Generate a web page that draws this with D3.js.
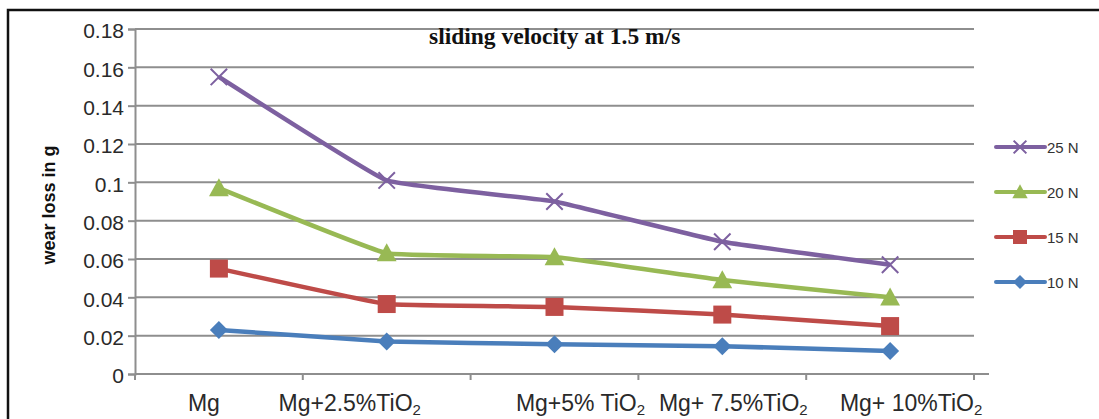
<!DOCTYPE html>
<html>
<head>
<meta charset="utf-8">
<script src="https://cdn.jsdelivr.net/npm/d3@7"></script>
<style>
  body { margin: 0; background: #fff; }
  svg { display: block; }
</style>
</head>
<body>
<div id="chart-area"></div>
<script>
// categories on the x axis (label text, subscript part kept apart)
let categories = ["Mg", "Mg+2.5%TiO2", "Mg+5% TiO2", "Mg+ 7.5%TiO2", "Mg+ 10%TiO2"];
let labelMain = ["Mg", "Mg+2.5%TiO", "Mg+5% TiO", "Mg+ 7.5%TiO", "Mg+ 10%TiO"];
let labelSub = ["", "2", "2", "2", "2"];

// wear loss (g) per load
let load10 = [0.023, 0.017, 0.0155, 0.0145, 0.012];
let load15 = [0.055, 0.0365, 0.035, 0.031, 0.025];
let load20 = [0.097, 0.063, 0.061, 0.049, 0.040];
let load25 = [0.155, 0.101, 0.090, 0.069, 0.057];

let seriesNames = ["10 N", "15 N", "20 N", "25 N"];
let yTicks = [0, 0.02, 0.04, 0.06, 0.08, 0.1, 0.12, 0.14, 0.16, 0.18];

// layout
let width = 1099, height = 419;
let plot = {left: 135, right: 974, top: 29, bottom: 374};
// the x labels in the picture are not centred on their category
let labelShift = [-15, -37, 26, 11, 21];

let colors = {"10 N": "#4a7ebb", "15 N": "#be4b48", "20 N": "#98b954", "25 N": "#7d60a0"};
let symbols = {"10 N": "diamond", "15 N": "square", "20 N": "triangle", "25 N": "cross"};

let svg = d3.select("#chart-area").append("svg")
    .attr("width", width)
    .attr("height", height);

svg.append("rect").attr("width", width).attr("height", height).attr("fill", "#fff");

// outer frame (runs past the right and bottom edges)
svg.append("rect")
    .attr("x", 8).attr("y", 10)
    .attr("width", 1100).attr("height", 420)
    .attr("fill", "none")
    .attr("stroke", "#111")
    .attr("stroke-width", 2.5);

let x = d3.scaleBand()
    .domain(categories)
    .range([plot.left, plot.right]);

let y = d3.scaleLinear()
    .domain([0, 0.18])
    .range([plot.bottom, plot.top]);

// gridlines
svg.append("g")
    .selectAll("line")
    .data(yTicks.slice(1))
    .enter().append("line")
    .attr("x1", plot.left).attr("x2", plot.right)
    .attr("y1", d => y(d)).attr("y2", d => y(d))
    .attr("stroke", "#8e8e8e")
    .attr("stroke-width", 2);

// y axis
let yAxis = svg.append("g")
    .attr("transform", "translate(" + plot.left + ",0)")
    .call(d3.axisLeft(y).tickValues(yTicks).tickSize(7).tickPadding(4)
        .tickFormat(d => d === 0 ? "0" : d3.format("")(+d.toFixed(2))));
yAxis.select(".domain").attr("stroke", "#8e8e8e").attr("stroke-width", 2);
yAxis.selectAll(".tick line").attr("stroke", "#8e8e8e").attr("stroke-width", 2);
yAxis.selectAll(".tick text")
    .attr("fill", "#2a2a2a")
    .style("font-family", "'Liberation Sans', Arial, sans-serif")
    .style("font-size", "21px")
    .attr("dy", "0.42em");

// x axis
svg.append("line")
    .attr("x1", plot.left).attr("x2", plot.right + 15)
    .attr("y1", plot.bottom).attr("y2", plot.bottom)
    .attr("stroke", "#8e8e8e").attr("stroke-width", 2);

let xEdges = categories.map(c => x(c)).concat([x(categories[categories.length - 1]) + x.bandwidth()]);
svg.append("g")
    .selectAll("line")
    .data(xEdges)
    .enter().append("line")
    .attr("x1", d => d).attr("x2", d => d)
    .attr("y1", plot.bottom).attr("y2", plot.bottom + 6)
    .attr("stroke", "#8e8e8e").attr("stroke-width", 2);

let xLabels = svg.append("g")
    .selectAll("text")
    .data(categories)
    .enter().append("text")
    .attr("x", (d, i) => x(d) + x.bandwidth() / 2 + labelShift[i])
    .attr("y", 411)
    .attr("text-anchor", "middle")
    .attr("fill", "#2a2a2a")
    .style("font-family", "'Liberation Sans', Arial, sans-serif")
    .style("font-size", "23px");
xLabels.append("tspan").text((d, i) => labelMain[i]);
xLabels.append("tspan")
    .attr("dy", 4)
    .style("font-size", "15px")
    .text((d, i) => labelSub[i]);

// title
svg.append("text")
    .attr("x", 429).attr("y", 44)
    .attr("fill", "#111")
    .style("font-family", "'Liberation Serif', 'Times New Roman', serif")
    .style("font-weight", "bold")
    .style("font-size", "23.5px")
    .text("sliding velocity at 1.5 m/s");

// y axis title
svg.append("text")
    .attr("transform", "translate(55,205) rotate(-90)")
    .attr("text-anchor", "middle")
    .attr("fill", "#111")
    .style("font-family", "'Liberation Sans', Arial, sans-serif")
    .style("font-weight", "bold")
    .style("font-size", "18px")
    .text("wear loss in g");

// series
let seriesData = [load10, load15, load20, load25].map((vals, i) => ({
    name: seriesNames[i],
    values: vals.map((v, j) => ({cat: categories[j], value: v}))
}));

let line = d3.line()
    .x(d => x(d.cat) + x.bandwidth() / 2)
    .y(d => y(d.value))
    .curve(d3.curveCardinal.tension(0.75));

function drawMarker(g, name, size) {
    let c = colors[name];
    let s = symbols[name];
    if (s === "cross") {
        g.append("path")
            .attr("d", d3.symbol().type(d3.symbolX).size(size * size * 0.55)())
            .attr("fill", "none").attr("stroke", c).attr("stroke-width", 2);
    } else if (s === "square") {
        g.append("rect")
            .attr("x", -size / 2).attr("y", -size / 2)
            .attr("width", size).attr("height", size)
            .attr("fill", c);
    } else if (s === "triangle") {
        g.append("path")
            .attr("d", "M0," + (-size * 0.55) + "L" + (size * 0.55) + "," + (size * 0.45) + "L" + (-size * 0.55) + "," + (size * 0.45) + "Z")
            .attr("fill", c);
    } else {
        g.append("path")
            .attr("d", "M0," + (-size * 0.5) + "L" + (size * 0.5) + ",0L0," + (size * 0.5) + "L" + (-size * 0.5) + ",0Z")
            .attr("fill", c);
    }
}

let seriesG = svg.selectAll(".series")
    .data(seriesData)
    .enter().append("g")
    .attr("class", "series");

seriesG.append("path")
    .attr("d", d => line(d.values))
    .attr("fill", "none")
    .attr("stroke", d => colors[d.name])
    .attr("stroke-width", 4.5)
    .attr("stroke-linejoin", "round");

seriesG.each(function (d) {
    let g = d3.select(this);
    d.values.forEach(p => {
        let m = g.append("g")
            .attr("transform", "translate(" + (x(p.cat) + x.bandwidth() / 2) + "," + y(p.value) + ")");
        drawMarker(m, d.name, 18);
    });
});

// legend, top entry is 25 N
let legendOrder = seriesNames.slice().reverse();
let legend = svg.selectAll(".legend")
    .data(legendOrder)
    .enter().append("g")
    .attr("class", "legend")
    .attr("transform", (d, i) => "translate(0," + (147 + i * 45) + ")");

legend.append("line")
    .attr("x1", 996).attr("x2", 1045)
    .attr("stroke", d => colors[d])
    .attr("stroke-width", 4)
    .attr("stroke-linecap", "round");

legend.each(function (d) {
    let m = d3.select(this).append("g").attr("transform", "translate(1020,0)");
    drawMarker(m, d, 14);
});

legend.append("text")
    .attr("x", 1047).attr("y", 6)
    .attr("fill", "#333")
    .style("font-family", "'Liberation Sans', Arial, sans-serif")
    .style("font-size", "15px")
    .text(d => d);
</script>
</body>
</html>
